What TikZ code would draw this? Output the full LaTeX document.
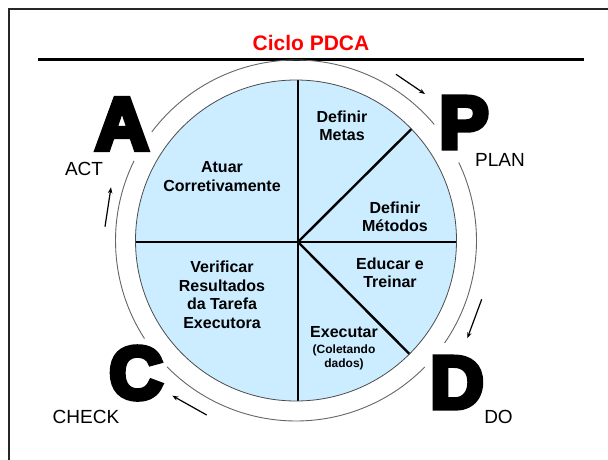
\documentclass[tikz,border=0pt]{standalone}
\usepackage{fontspec}
\setmainfont{Liberation Sans}
\newfontfamily\heavy{Liberation Sans}[UprightFont={* Bold}, FakeBold=7]
\usetikzlibrary{arrows.meta}
\definecolor{pieblue}{RGB}{204,236,255}
\begin{document}
\begin{tikzpicture}[x=1pt,y=1pt,
  ring/.style={draw=black!60, line width=0.9pt},
  spoke/.style={line width=2.4pt},
  flowarrow/.style={-{Stealth[length=6pt,width=4.5pt]}, line width=1.2pt},
  inner/.style={font=\bfseries\fontsize{16}{18.5}\selectfont, align=center, inner sep=0pt},
  smalltext/.style={font=\bfseries\fontsize{12}{14}\selectfont, align=center, inner sep=0pt},
  big/.style={font=\heavy\fontsize{74}{74}\selectfont, inner sep=0pt, anchor=base},
  lbl/.style={font=\fontsize{19}{19}\selectfont, inner sep=0pt, anchor=base}]
\useasboundingbox (0,0) rectangle (608,459);
\fill[white] (0,0) rectangle (608,459);
\draw[line width=2.2pt, black!85] (9,-5) -- (9,450) -- (615,450);
\node[font=\bfseries\fontsize{21}{21}\selectfont, text=red, inner sep=0pt] (title) at (311,416) {Ciclo PDCA};
\coordinate (rl) at (38,399.7);
\coordinate (rr) at (584,399.7);
\draw[line width=3pt] (rl) -- (rr);
% pie
\coordinate (O) at (296,218.5);
\coordinate (H) at (298,217);
\fill[pieblue] (O) circle[radius=160.5];
\coordinate (vt) at (298,379);
\coordinate (vb) at (298,58);
\coordinate (hl) at (135.5,217);
\coordinate (hr) at (456.5,217);
\coordinate (du) at (411.5,330);
\coordinate (dd) at (409.5,105);
\draw[spoke] (vt) -- (vb);
\draw[spoke] (hl) -- (hr);
\draw[spoke] (H) -- (du);
\draw[spoke] (H) -- (dd);
\draw[black!70, line width=0.8pt] (O) circle[radius=160.5];
% outer ring arcs
\begin{scope}[shift={(296,218.5)}]
\draw[ring] (40:180.5) arc[start angle=40, end angle=143, radius=180.5];
\draw[ring] (153.8:180.5) arc[start angle=153.8, end angle=212.9, radius=180.5];
\draw[ring] (224.4:180.5) arc[start angle=224.4, end angle=315.5, radius=180.5];
\draw[ring] (-34.6:180.5) arc[start angle=-34.6, end angle=25.6, radius=180.5];
\end{scope}
% texts in pie
\node[inner] (atuar) at (222,282.5) {Atuar\\Corretivamente};
\node[inner] (verif) at (222,164) {Verificar\\Resultados\\da Tarefa\\Executora};
\node[inner] (metas) at (342,333) {Definir\\Metas};
\node[inner] (metodos) at (395,242) {Definir\\Métodos};
\node[inner] (educar) at (390,186) {Educar e\\Treinar};
\node[inner] (exec) at (344,126.5) {Executar};
\node[smalltext] (coleta) at (344,102) {(Coletando\\dados)};
% big letters
\node[big] (A) at (122,309.5) {A};
\node[big] (P) at (464,311) {P};
\node[big] (D) at (457,51) {D};
\node[big] (C) at (136,60.5) {C};
% labels
\node[lbl] (act) at (84,284) {ACT};
\node[lbl] (plan) at (500,293) {PLAN};
\node[lbl] (do) at (498.5,36) {DO};
\node[lbl] (check) at (86,36) {CHECK};
% arrows
\coordinate (a1) at (105,232.3);
\coordinate (a2) at (111,271.7);
\coordinate (p1) at (396,384.7);
\coordinate (p2) at (425,365);
\coordinate (d1) at (481.7,159.7);
\coordinate (d2) at (467.3,120.7);
\coordinate (c1) at (206.7,44);
\coordinate (c2) at (172.3,63.3);
\draw[flowarrow] (a1) -- (a2);
\draw[flowarrow] (p1) -- (p2);
\draw[flowarrow] (d1) -- (d2);
\draw[flowarrow] (c1) -- (c2);
\end{tikzpicture}
\end{document}
